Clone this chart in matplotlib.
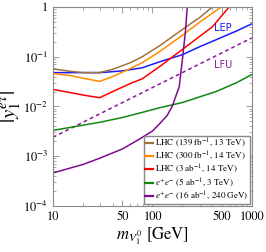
import numpy as np
import matplotlib
matplotlib.use('Agg')
from matplotlib import pyplot as plt
from matplotlib.ticker import FixedLocator, FixedFormatter, LogLocator, NullFormatter

plt.rcParams['font.family'] = 'STIXGeneral'
plt.rcParams['mathtext.fontset'] = 'stix'

# LHC (139 fb^-1, 13 TeV)
m_lhc139 = [10, 15, 20, 29.5, 40, 60, 79, 120, 218, 300, 400]
y_lhc139 = [0.057, 0.051, 0.048, 0.048, 0.056, 0.076, 0.1, 0.17, 0.4, 0.62, 1.0]

# LHC (300 fb^-1, 14 TeV)
m_lhc300 = [10, 15, 20, 29.5, 40, 60, 79, 120, 200, 300, 490]
y_lhc300 = [0.046, 0.042, 0.037, 0.032, 0.04, 0.058, 0.076, 0.13, 0.27, 0.5, 1.0]

# LHC (3 ab^-1, 14 TeV)
m_lhc3 = [10, 15, 20, 29.5, 40, 60, 79, 120, 200, 400, 590]
y_lhc3 = [0.022, 0.019, 0.017, 0.015, 0.02, 0.029, 0.036, 0.065, 0.14, 0.4, 1.0]

# e+e- (5 ab^-1, 3 TeV)
m_ee3 = [10, 20, 29.5, 50, 79, 120, 200, 437, 700, 1000]
y_ee3 = [0.0033, 0.0042, 0.0048, 0.006, 0.0076, 0.0095, 0.012, 0.02, 0.03, 0.044]

# e+e- (16 ab^-1, 240 GeV)
m_ee240 = [10, 20, 29.5, 50, 74, 100, 117, 140, 158, 186, 200, 214, 224]
y_ee240 = [4.6e-4, 6.8e-4, 9.1e-4, 1.4e-3, 2.2e-3, 3.2e-3, 4.4e-3, 6.5e-3, 0.01, 0.025, 0.087, 0.3, 1.0]

# LEP
m_lep = [10, 20, 30, 50, 79, 120, 200, 300, 437, 700, 1000]
y_lep = [0.048, 0.048, 0.048, 0.052, 0.06, 0.08, 0.11, 0.16, 0.22, 0.33, 0.46]

# LFU (dashed)
m_lfu = [10, 1000]
y_lfu = [0.0024, 0.24]

fig = plt.figure(figsize=(2.66, 2.52), dpi=100)
ax = fig.add_axes([0.199, 0.183, 0.748, 0.789])

ax.plot(m_lep, y_lep, color='#1a1aff', lw=1.1)
ax.plot(m_lfu, y_lfu, color='#8b1a9a', lw=1.1, ls=(0, (2.5, 2)))
l1, = ax.plot(m_lhc139, y_lhc139, color='#a0723e', lw=1.1)
l2, = ax.plot(m_lhc300, y_lhc300, color='#ff8c00', lw=1.1)
l3, = ax.plot(m_lhc3, y_lhc3, color='#ff0000', lw=1.1)
l4, = ax.plot(m_ee3, y_ee3, color='#118811', lw=1.1)
l5, = ax.plot(m_ee240, y_ee240, color='#800a90', lw=1.1)

ax.set_xscale('log')
ax.set_yscale('log')
ax.set_xlim(10, 1000)
ax.set_ylim(1e-4, 1)

ax.xaxis.set_major_locator(FixedLocator([10, 50, 100, 500, 1000]))
ax.xaxis.set_major_formatter(FixedFormatter(['10', '50', '100', '500', '1000']))
ax.xaxis.set_minor_locator(LogLocator(base=10, subs=np.arange(2, 10)))
ax.xaxis.set_minor_formatter(NullFormatter())
ax.yaxis.set_major_locator(FixedLocator([1e-4, 1e-3, 1e-2, 1e-1, 1]))
ax.yaxis.set_major_formatter(FixedFormatter(['$10^{-4}$', '$10^{-3}$', '$10^{-2}$', '$10^{-1}$', '1']))
ax.yaxis.set_minor_locator(LogLocator(base=10, subs=np.arange(2, 10)))
ax.yaxis.set_minor_formatter(NullFormatter())

ax.tick_params(which='both', direction='in', top=True, right=True, labelsize=9, color='#888888')
ax.tick_params(which='major', length=4, width=0.6)
ax.tick_params(which='minor', length=2, width=0.5)
for s in ax.spines.values():
    s.set_color('#888888')
    s.set_linewidth(0.8)

ax.set_xlabel(r'$m_{V_1^0}$ [GeV]', fontsize=12, labelpad=2)
ax.set_ylabel(r'$|y_1^{e\tau}|$', fontsize=15, labelpad=0)

ax.text(420, 0.33, 'LEP', color='#1a1aff', fontsize=7, family='DejaVu Sans')
ax.text(420, 0.06, 'LFU', color='#8b1a9a', fontsize=7, family='DejaVu Sans')

ax.legend([l1, l2, l3, l4, l5],
          [r'LHC (139 fb$^{-1}$, 13 TeV)', r'LHC (300 fb$^{-1}$, 14 TeV)',
           r'LHC (3 ab$^{-1}$, 14 TeV)', r'$e^{+}e^{-}$ (5 ab$^{-1}$, 3 TeV)',
           r'$e^{+}e^{-}$ (16 ab$^{-1}$, 240 GeV)'],
          loc='lower right', fontsize=6.5, handlelength=0.9, handletextpad=0.25,
          labelspacing=0.0, borderpad=0.15, borderaxespad=0.2, fancybox=False,
          edgecolor='#888888', framealpha=1)
for line in ax.get_legend().get_lines():
    line.set_linewidth(1.6)

plt.savefig('out.png', dpi=100)
